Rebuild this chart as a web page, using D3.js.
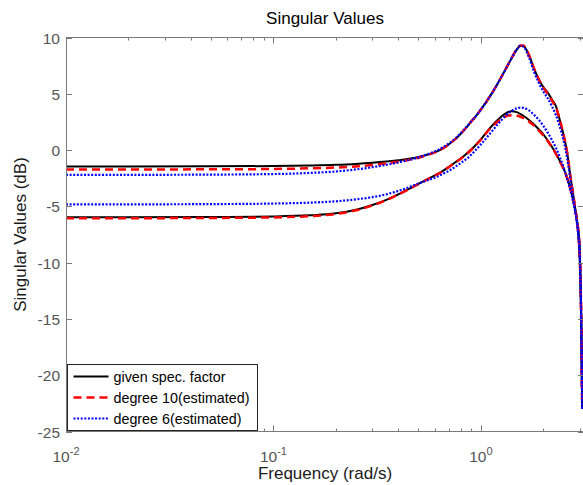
<!DOCTYPE html>
<html>
<head>
<meta charset="utf-8">
<script src="https://cdn.jsdelivr.net/npm/d3@7"></script>
<style>
  body { margin: 0; background: #fff; }
  svg { display: block; font-family: "Liberation Sans", Arial, Helvetica, sans-serif; }
</style>
</head>
<body>
<svg id="chart" width="583" height="485"></svg>
<script>

// DATA -----------------------------------------------------------------------

var freq = [0.01, 0.02, 0.05, 0.1, 0.15, 0.2, 0.25, 0.3, 0.35, 0.4, 0.45, 0.5,
            0.55, 0.6, 0.65, 0.7, 0.75, 0.8, 0.85, 0.9, 0.95, 1.0, 1.1, 1.2,
            1.3, 1.4, 1.5, 1.55, 1.6, 1.7, 1.8, 1.9, 2.0, 2.1, 2.2, 2.3, 2.4,
            2.5, 2.6, 2.7, 2.8, 2.9, 2.95, 3.0, 3.04, 3.08];

// given spectral factor (dB)
var givenUpper = [-1.45, -1.45, -1.44, -1.42, -1.37, -1.31, -1.23, -1.13, -1.02, -0.9, -0.78, -0.62,
                  -0.42, -0.2, 0.1, 0.5, 0.95, 1.45, 2.0, 2.55, 3.05, 3.6, 4.7, 5.85,
                  7.0, 8.1, 9.0, 9.25, 9.25, 8.5, 7.3, 6.3, 5.6, 5.1, 4.5, 3.9, 2.7,
                  1.4, -0.1, -2.3, -4.2, -6.2, -7.5, -9.8, -14, -23];
var givenLower = [-5.97, -5.97, -5.95, -5.9, -5.8, -5.62, -5.3, -4.88, -4.42, -3.93, -3.45, -3.0,
                  -2.6, -2.25, -1.9, -1.5, -1.1, -0.75, -0.35, 0.05, 0.5, 0.95, 1.9, 2.65,
                  3.2, 3.45, 3.35, 3.2, 3.05, 2.7, 2.3, 1.85, 1.4, 0.85, 0.3, -0.3, -0.95,
                  -1.6, -2.4, -3.4, -4.6, -6.1, -7.1, -9.2, -14, -23];

// degree 10 estimate (dB)
var deg10Upper = [-1.72, -1.72, -1.71, -1.68, -1.62, -1.55, -1.45, -1.32, -1.18, -1.03, -0.87, -0.68,
                  -0.45, -0.2, 0.1, 0.5, 0.95, 1.45, 2.0, 2.55, 3.05, 3.6, 4.7, 5.85,
                  7.0, 8.1, 9.05, 9.3, 9.3, 8.5, 7.3, 6.3, 5.55, 5.0, 4.4, 3.8, 2.7,
                  1.4, -0.1, -2.3, -4.2, -6.2, -7.5, -9.8, -14, -23];
var deg10Lower = [-6.05, -6.05, -6.03, -5.98, -5.87, -5.68, -5.35, -4.92, -4.45, -3.95, -3.47, -3.02,
                  -2.62, -2.27, -1.92, -1.52, -1.12, -0.77, -0.37, 0.03, 0.47, 0.92, 1.85, 2.5,
                  2.95, 3.1, 3.05, 2.95, 2.85, 2.55, 2.2, 1.75, 1.3, 0.8, 0.25, -0.35, -1.0,
                  -1.65, -2.45, -3.45, -4.6, -6.1, -7.1, -9.2, -14, -23];

// degree 6 estimate (dB)
var deg6Upper = [-2.2, -2.2, -2.18, -2.13, -2.03, -1.9, -1.72, -1.52, -1.31, -1.1, -0.88, -0.65,
                 -0.4, -0.12, 0.2, 0.58, 1.0, 1.5, 2.02, 2.55, 3.05, 3.6, 4.7, 5.85,
                 7.0, 8.1, 9.0, 9.25, 9.2, 8.3, 7.0, 6.0, 5.2, 4.6, 3.9, 3.1, 2.1,
                 0.9, -0.6, -2.6, -4.5, -6.4, -7.6, -9.8, -14, -23];
var deg6Lower = [-4.82, -4.82, -4.8, -4.75, -4.67, -4.55, -4.38, -4.18, -3.93, -3.63, -3.3, -2.97,
                 -2.7, -2.45, -2.15, -1.85, -1.5, -1.15, -0.8, -0.4, 0.05, 0.5, 1.4, 2.25,
                 2.95, 3.45, 3.72, 3.77, 3.75, 3.55, 3.15, 2.7, 2.15, 1.55, 0.9, 0.2, -0.6,
                 -1.5, -2.5, -3.6, -4.8, -6.3, -7.3, -9.4, -14, -23];

var yTicks = [-25, -20, -15, -10, -5, 0, 5, 10];
var xDecades = [-2, -1, 0];
var legendLabels = ["given spec. factor", "degree 10(estimated)", "degree 6(estimated)"];


// LAYOUT ---------------------------------------------------------------------

var plot = { left: 66, right: 584, top: 37.5, bottom: 431.5 };
var svg = d3.select("#chart");

var x = d3.scaleLog().domain([0.01, Math.PI]).range([plot.left, plot.right]);
var y = d3.scaleLinear().domain([-25, 10]).range([plot.bottom, plot.top]);

var series = [
    { upper: givenUpper, lower: givenLower, color: "#000000", width: 2,   dash: null },
    { upper: deg10Upper, lower: deg10Lower, color: "#ff0000", width: 2.5, dash: "8,5" },
    { upper: deg6Upper,  lower: deg6Lower,  color: "#0000ff", width: 2.2, dash: "2,1.6" }
];


// AXES -----------------------------------------------------------------------

function drawAxes() {
    var g = svg.append("g").attr("class", "axes");
    var axisColor = "#7a7a7a";

    // major and minor ticks on the log axis, top and bottom
    var minor = [];
    xDecades.forEach(function(d) {
        for (var k = 2; k <= 9; k++) {
            var v = k * Math.pow(10, d);
            if (v <= Math.PI) minor.push(v);
        }
    });
    var major = xDecades.map(function(d) { return Math.pow(10, d); });

    major.forEach(function(v) {
        var px = Math.round(x(v)) + 0.5;
        g.append("line").attr("x1", px).attr("x2", px)
            .attr("y1", plot.bottom).attr("y2", plot.bottom - 6).attr("stroke", axisColor);
        g.append("line").attr("x1", px).attr("x2", px)
            .attr("y1", plot.top).attr("y2", plot.top + 6).attr("stroke", axisColor);
    });
    minor.forEach(function(v) {
        var px = Math.round(x(v)) + 0.5;
        g.append("line").attr("x1", px).attr("x2", px)
            .attr("y1", plot.bottom).attr("y2", plot.bottom - 3).attr("stroke", axisColor);
        g.append("line").attr("x1", px).attr("x2", px)
            .attr("y1", plot.top).attr("y2", plot.top + 3).attr("stroke", axisColor);
    });

    // y ticks, left and right
    yTicks.forEach(function(v) {
        var py = Math.round(y(v)) + 0.5;
        g.append("line").attr("x1", plot.left).attr("x2", plot.left + 6)
            .attr("y1", py).attr("y2", py).attr("stroke", axisColor);
        g.append("line").attr("x1", plot.right).attr("x2", plot.right - 6)
            .attr("y1", py).attr("y2", py).attr("stroke", axisColor);
        g.append("text")
            .attr("x", plot.left - 6)
            .attr("y", py)
            .attr("dy", "0.36em")
            .attr("text-anchor", "end")
            .attr("fill", "#555")
            .style("font-size", "15.5px")
            .text(v);
    });

    // decade labels 10^n
    xDecades.forEach(function(d) {
        var t = g.append("text")
            .attr("x", x(Math.pow(10, d)))
            .attr("y", 462)
            .attr("text-anchor", "middle")
            .attr("fill", "#555")
            .style("font-size", "15.5px");
        t.append("tspan").text("10");
        t.append("tspan").attr("dy", -7).style("font-size", "11px").text(d);
    });

    // box
    g.append("rect")
        .attr("x", plot.left + 0.5).attr("y", plot.top)
        .attr("width", plot.right - plot.left).attr("height", plot.bottom - plot.top)
        .attr("fill", "none").attr("stroke", axisColor);

    // titles
    svg.append("text")
        .attr("x", (plot.left + plot.right) / 2).attr("y", 24)
        .attr("text-anchor", "middle").attr("fill", "#000")
        .style("font-size", "17px")
        .text("Singular Values");
    svg.append("text")
        .attr("x", (plot.left + plot.right) / 2).attr("y", 479)
        .attr("text-anchor", "middle").attr("fill", "#1a1a1a")
        .style("font-size", "17px")
        .text("Frequency (rad/s)");
    svg.append("text")
        .attr("transform", "translate(26," + ((plot.top + plot.bottom) / 2) + ") rotate(-90)")
        .attr("text-anchor", "middle").attr("fill", "#1a1a1a")
        .style("font-size", "17px")
        .text("Singular Values (dB)");
}


// CURVES ---------------------------------------------------------------------

function drawCurves() {
    svg.append("clipPath").attr("id", "plotClip")
        .append("rect")
        .attr("x", plot.left).attr("y", plot.top)
        .attr("width", plot.right - plot.left).attr("height", plot.bottom - plot.top);

    var line = d3.line()
        .x(function(d) { return x(d[0]); })
        .y(function(d) { return y(d[1]); })
        .curve(d3.curveMonotoneX);

    var g = svg.append("g").attr("clip-path", "url(#plotClip)");
    series.forEach(function(s) {
        [s.upper, s.lower].forEach(function(vals) {
            var pts = freq.map(function(f, i) { return [f, vals[i]]; });
            g.append("path")
                .attr("d", line(pts))
                .attr("fill", "none")
                .attr("stroke", s.color)
                .attr("stroke-width", s.width)
                .attr("stroke-dasharray", s.dash);
        });
    });
}


// LEGEND ---------------------------------------------------------------------

function drawLegend() {
    var lx = 67.5, ly = 364.5, lw = 190, lh = 66;
    var g = svg.append("g").attr("class", "legend");
    g.append("rect")
        .attr("x", lx).attr("y", ly).attr("width", lw).attr("height", lh)
        .attr("fill", "#fff").attr("stroke", "#262626");
    legendLabels.forEach(function(label, i) {
        var ry = ly + 12 + i * 21;
        var s = series[i];
        g.append("line")
            .attr("x1", lx + 6).attr("x2", lx + 41)
            .attr("y1", ry).attr("y2", ry)
            .attr("stroke", s.color)
            .attr("stroke-width", s.width)
            .attr("stroke-dasharray", s.dash);
        g.append("text")
            .attr("x", lx + 46).attr("y", ry)
            .attr("dy", "0.35em")
            .attr("fill", "#000")
            .style("font-size", "14.3px")
            .text(label);
    });
}

drawCurves();
drawAxes();
drawLegend();

</script>
</body>
</html>
